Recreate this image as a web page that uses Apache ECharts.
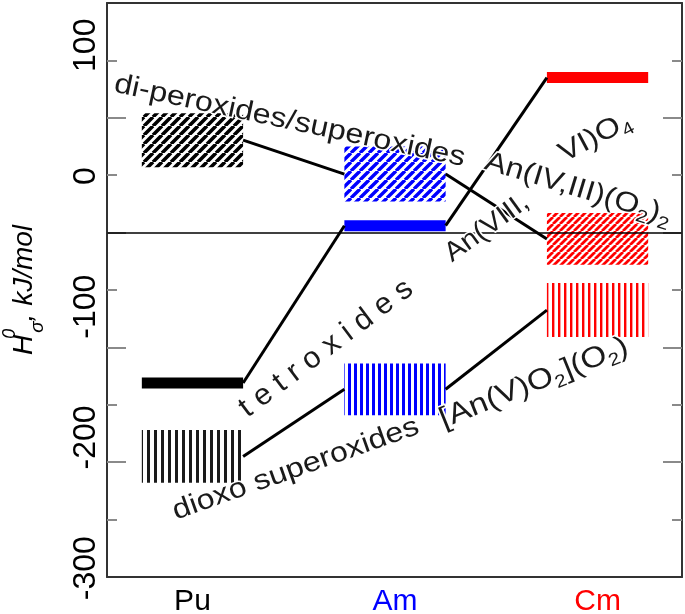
<!DOCTYPE html>
<html>
<head>
<meta charset="utf-8">
<script src="https://cdn.jsdelivr.net/npm/echarts@6/dist/echarts.min.js"></script>
<style>
html,body{margin:0;padding:0;background:#ffffff;}
#c{width:685px;height:614px;}
</style>
</head>
<body>
<div id="c"></div>
<script>
// ---------------- data ----------------
const categories = ['Pu', 'Am', 'Cm'];
// di-peroxides / superoxides  An(IV,III)(O2)2  (diagonal hatched ranges)
const diPeroxideLow  = [7, -23, -78];
const diPeroxideHigh = [54, 25, -33];
// tetroxides An(VIII,VI)O4 (solid levels)
const tetroxideLevel = [-181, -44, 85];
// dioxo superoxides [An(V)O2](O2) (vertical striped ranges)
const dioxoLow  = [-268, -209, -141];
const dioxoHigh = [-222, -164, -94];
// horizontal reference level
const referenceLevel = -50;
// axis ticks / labels
const yTickValues = [100, 0, -100, -200, -300];
const yMinorTickValues = [50, -50, -150, -250];
const yLabelValues = [100, 0, -100, -200, -300];

// ---------------- styles / layout ----------------
const FONT = "'Liberation Sans', Arial, Helvetica, sans-serif";
const catColors = ['#000000', '#0000ff', '#ff0000'];
const HALF_W = 0.25;     // half box width in category units
const BAR_PX = 11;       // thickness of level bars
const TEXT_COLOR = '#1a1a1a';

function diagPattern(color, p, w) {
  const c = document.createElement('canvas');
  c.width = p; c.height = p;
  const g = c.getContext('2d');
  g.strokeStyle = color; g.lineWidth = w;
  g.beginPath();
  for (let o = -p; o <= p; o += p) { g.moveTo(o, p); g.lineTo(o + p, 0); }
  g.stroke();
  return { image: c, repeat: 'repeat' };
}
function vPattern(color, p, w) {
  const c = document.createElement('canvas');
  c.width = p; c.height = 4;
  const g = c.getContext('2d');
  g.fillStyle = color;
  g.fillRect(0, 0, w, 4);
  return { image: c, repeat: 'repeat' };
}
const diagPatterns = [diagPattern('#000000', 9, 3.6), diagPattern('#0000ff', 9, 3.4), diagPattern('#ff0000', 7, 2.8)];
const vertPatterns = [vPattern('#1a1a1a', 7, 3), vPattern('#0000ff', 6, 3), vPattern('#ff0000', 6, 2.4)];

const subRich = {
  m: { lineHeight: 36 },
  s: { fontSize: 18, lineHeight: 16, verticalAlign: 'bottom' }
};
// annotation layout: anchor in data units, angle in degrees
const annotations = [
  { text: 'di-peroxides/superoxides', at: [0.48, 47], angle: -12, size: 28, sx: 1.15 },
  { text: 't e t r o x i d e s', at: [0.66, -151], angle: 37, size: 30, sx: 1.02 },
  { text: 'dioxo superoxides', at: [0.51, -256], angle: 19.5, size: 28, sx: 1.15 },
  { text: '{m|[An(V)O}{s|2}{m|](O}{s|2}{m|)}', at: [1.686, -181], angle: 22, size: 29, sx: 1.15 },
  { text: '{m|An(IV,III)(O}{s|2}{m|)}{s|2}', at: [1.904, -12], angle: -16.8, size: 28, sx: 1.15 },
  { text: 'An(VIII,', at: [1.454, -46], angle: 36, size: 27, sx: 1.08 },
  { text: '{m|VI)O}{s|4}', at: [1.988, 33], angle: 28, size: 28, sx: 1.15 }
];

const chart = echarts.init(document.getElementById('c'), null, { renderer: 'canvas' });

function mid(lo, hi) { return categories.map((c, i) => (lo[i] + hi[i]) / 2); }
const connectorSets = [mid(diPeroxideLow, diPeroxideHigh), tetroxideLevel, mid(dioxoLow, dioxoHigh)];
const connectorData = [];
connectorSets.forEach(s => { for (let i = 0; i < s.length - 1; i++) connectorData.push([i, s[i], s[i + 1]]); });

const yBase = { type: 'value', min: -350, max: 150, splitLine: { show: false }, axisLabel: { show: false } };
const tickStyle = { color: '#8a8a8a', width: 2 };

const option = {
  animation: false,
  backgroundColor: '#ffffff',
  grid: { left: 107, right: 3, top: 3, bottom: 37, containLabel: false, outerBoundsMode: 'none' },
  xAxis: [
    {
      type: 'value', position: 'bottom', min: -0.422, max: 2.417,
      axisLine: { show: true, onZero: false, lineStyle: { color: '#333', width: 2 } },
      axisTick: { show: false }, splitLine: { show: false },
      axisLabel: {
        customValues: [0, 1, 2], margin: 10,
        formatter: v => '{c' + Math.round(v) + '|' + categories[Math.round(v)] + '}',
        rich: {
          c0: { color: catColors[0], fontSize: 30, fontFamily: FONT },
          c1: { color: catColors[1], fontSize: 30, fontFamily: FONT },
          c2: { color: catColors[2], fontSize: 30, fontFamily: FONT }
        }
      }
    },
    {
      type: 'value', position: 'top', min: -0.422, max: 2.417,
      axisLine: { show: true, onZero: false, lineStyle: { color: '#333', width: 2 } },
      axisTick: { show: false }, splitLine: { show: false }, axisLabel: { show: false }
    }
  ],
  yAxis: [
    Object.assign({}, yBase, { position: 'left',
      axisLine: { show: true, onZero: false, lineStyle: { color: '#333', width: 2 } },
      axisTick: { show: true, inside: true, length: 10, customValues: yTickValues, lineStyle: tickStyle } }),
    Object.assign({}, yBase, { position: 'left',
      axisLine: { show: false, onZero: false },
      axisTick: { show: true, inside: true, length: 19, customValues: yMinorTickValues, lineStyle: tickStyle } }),
    Object.assign({}, yBase, { position: 'right',
      axisLine: { show: true, onZero: false, lineStyle: { color: '#333', width: 2 } },
      axisTick: { show: true, inside: true, length: 10, customValues: yTickValues, lineStyle: tickStyle } }),
    Object.assign({}, yBase, { position: 'right',
      axisLine: { show: false, onZero: false },
      axisTick: { show: true, inside: true, length: 19, customValues: yMinorTickValues, lineStyle: tickStyle } }),
    {
      type: 'value', position: 'left', min: -306.7, max: 132.3,
      axisLine: { show: false, onZero: false }, axisTick: { show: false }, splitLine: { show: false },
      axisLabel: {
        customValues: yLabelValues, rotate: 90, margin: 5, color: '#000', fontSize: 32, fontFamily: FONT,
        align: 'center', verticalAlign: 'bottom', hideOverlap: false
      },
      name: '{h|H}{sup|0}{sub|σ}{h|, kJ/mol}',
      nameLocation: 'middle', nameRotate: 90, nameGap: 60,
      nameTextStyle: {
        color: '#000',
        rich: {
          h: { fontSize: 28, fontStyle: 'italic', fontFamily: FONT, color: '#000', lineHeight: 46 },
          sup: { fontSize: 18, fontStyle: 'italic', fontFamily: FONT, color: '#000', verticalAlign: 'top', lineHeight: 16, width: 2 },
          sub: { fontSize: 19, fontStyle: 'italic', fontFamily: FONT, color: '#000', verticalAlign: 'bottom', lineHeight: 16 }
        }
      }
    }
  ],
  series: [
    {
      type: 'custom', name: 'di-peroxides/superoxides', xAxisIndex: 0, yAxisIndex: 0, silent: true, z: 2,
      data: categories.map((c, i) => [i, diPeroxideLow[i], diPeroxideHigh[i]]),
      encode: { x: 0, y: [1, 2] },
      renderItem: (params, api) => {
        const i = api.value(0);
        const tl = api.coord([i - HALF_W, api.value(2)]);
        const br = api.coord([i + HALF_W, api.value(1)]);
        return { type: 'rect', shape: { x: tl[0], y: tl[1], width: br[0] - tl[0], height: br[1] - tl[1] }, style: { fill: diagPatterns[i] } };
      }
    },
    {
      type: 'custom', name: 'dioxo superoxides', xAxisIndex: 0, yAxisIndex: 0, silent: true, z: 2,
      data: categories.map((c, i) => [i, dioxoLow[i], dioxoHigh[i]]),
      encode: { x: 0, y: [1, 2] },
      renderItem: (params, api) => {
        const i = api.value(0);
        const tl = api.coord([i - HALF_W, api.value(2)]);
        const br = api.coord([i + HALF_W, api.value(1)]);
        return { type: 'rect', shape: { x: tl[0], y: tl[1], width: br[0] - tl[0], height: br[1] - tl[1] }, style: { fill: vertPatterns[i] } };
      }
    },
    {
      type: 'custom', name: 'tetroxides', xAxisIndex: 0, yAxisIndex: 0, silent: true, z: 3,
      data: categories.map((c, i) => [i, tetroxideLevel[i]]),
      encode: { x: 0, y: 1 },
      renderItem: (params, api) => {
        const i = api.value(0);
        const l = api.coord([i - HALF_W, api.value(1)]);
        const r = api.coord([i + HALF_W, api.value(1)]);
        return { type: 'rect', shape: { x: l[0], y: l[1] - BAR_PX / 2, width: r[0] - l[0], height: BAR_PX }, style: { fill: catColors[i] } };
      }
    },
    {
      type: 'custom', name: 'connectors', xAxisIndex: 0, yAxisIndex: 0, silent: true, z: 4,
      data: connectorData,
      encode: { x: 0, y: [1, 2] },
      renderItem: (params, api) => {
        const i = api.value(0);
        const a = api.coord([i + HALF_W, api.value(1)]);
        const b = api.coord([i + 1 - HALF_W, api.value(2)]);
        return { type: 'line', shape: { x1: a[0], y1: a[1], x2: b[0], y2: b[1] }, style: { stroke: '#000', lineWidth: 3 } };
      },
      markLine: {
        silent: true, symbol: 'none', animation: false,
        label: { show: false },
        lineStyle: { color: '#000', width: 1.5, type: 'solid' },
        data: [{ yAxis: referenceLevel }]
      }
    },
    {
      type: 'custom', name: 'annotations', xAxisIndex: 0, yAxisIndex: 0, silent: true, z: 10,
      data: annotations.map(a => a.at),
      encode: { x: 0, y: 1 },
      renderItem: (params, api) => {
        const a = annotations[params.dataIndex];
        const p = api.coord([api.value(0), api.value(1)]);
        return {
          type: 'text', x: p[0], y: p[1], rotation: a.angle * Math.PI / 180, scaleX: a.sx, scaleY: 1,
          style: {
            text: a.text, rich: subRich, fontSize: a.size, fontFamily: FONT, fill: TEXT_COLOR,
            stroke: '#ffffff', lineWidth: 3, align: 'center', verticalAlign: 'middle'
          }
        };
      }
    }
  ]
};
chart.setOption(option);
</script>
</body>
</html>
